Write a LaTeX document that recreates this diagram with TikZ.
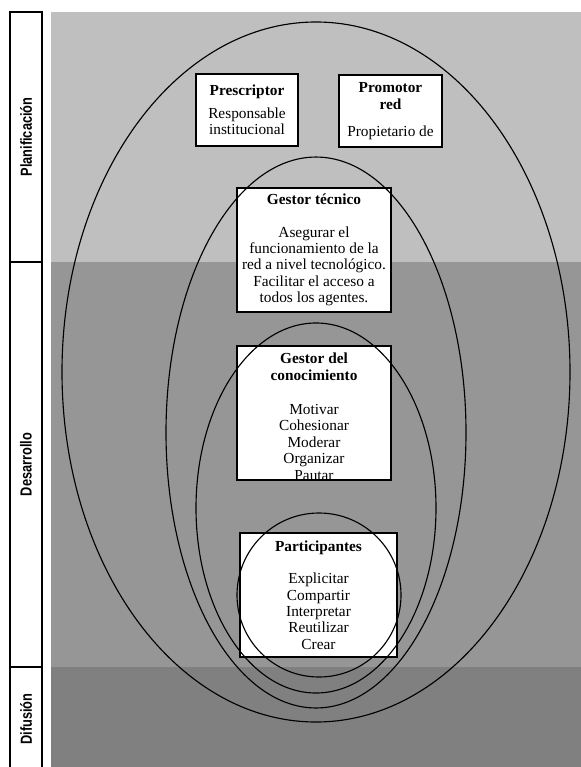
\documentclass[tikz,border=0pt]{standalone}
\usepackage{fontspec}
\setmainfont{Liberation Serif}
\newfontfamily\phasefont{Liberation Sans}[FakeStretch=0.8]

\definecolor{planbg}{RGB}{191,191,191}
\definecolor{desbg}{RGB}{150,150,150}
\definecolor{difbg}{RGB}{128,128,128}

\tikzset{
  phase/.style={draw=black, line width=0.9pt, rotate=90, inner sep=0pt,
    minimum height=24pt, font=\phasefont\bfseries\fontsize{12}{14}\selectfont},
  rolebox/.style={draw=black, fill=white, line width=0.9pt, inner sep=0pt,
    align=center, font=\fontsize{11.5}{12.3}\selectfont},
  roletext/.style={align=center, inner sep=0pt, font=\fontsize{11.5}{12.3}\selectfont},
  ring/.style={draw=black, line width=0.85pt}
}

\begin{document}
\begin{tikzpicture}[x=0.75pt, y=-0.75pt]
\useasboundingbox (0,0) rectangle (581,767);

% background bands
\fill[planbg] (51,12) rectangle (581,262);
\fill[desbg] (51,262) rectangle (581,667);
\fill[difbg] (51,667) rectangle (581,767);

% phases
\node[phase, minimum width=187.5pt] (plan) at (26,137) {Planificación};
\node[phase, minimum width=303.75pt] (des) at (26,464.5) {Desarrollo};
\node[phase, minimum width=78pt] (dif) at (26,719) {Difusión};

% roles
\node[rolebox, minimum width=76.5pt, minimum height=54pt] (presc) at (247,110)
  {\textbf{Prescriptor}\\[5pt] Responsable\\ institucional};
\node[rolebox, minimum width=77.25pt, minimum height=54pt] (promo) at (390.5,111)
  {\textbf{Promotor}\\ \textbf{red}\\[8pt] Propietario de};
\node[rolebox, minimum width=115.5pt, minimum height=93pt] (gtec) at (314,250)
  {\textbf{Gestor técnico}\\[12pt] Asegurar el\\ funcionamiento de la\\
   red a nivel tecnológico.\\ Facilitar el acceso a\\ todos los agentes.};
\node[rolebox, minimum width=115.5pt, minimum height=100.5pt] (gcon) at (314,413) {};
\begin{scope}
\clip (gcon.south west) rectangle (gcon.north east);
\node[roletext, anchor=north] (gcontxt) at ([yshift=-5.5pt]gcon.north)
  {\textbf{Gestor del}\\ \textbf{conocimiento}\\[13.5pt] Motivar\\ Cohesionar\\
   Moderar\\ Organizar\\ Pautar};
\end{scope}
\node[rolebox, minimum width=117.75pt, minimum height=93pt] (part) at (318.5,595)
  {\textbf{Participantes}\\[12pt] Explicitar\\ Compartir\\ Interpretar\\
   Reutilizar\\ Crear};

% rings
\draw[ring] (316,372) ellipse [x radius=190.5pt, y radius=262.5pt];
\draw[ring] (316,432.5) ellipse [x radius=112.5pt, y radius=206.6pt];
\draw[ring] (316,508) ellipse [x radius=90pt, y radius=138.75pt];
\draw[ring] (319,595) circle [radius=61.5pt];

\end{tikzpicture}
\end{document}
